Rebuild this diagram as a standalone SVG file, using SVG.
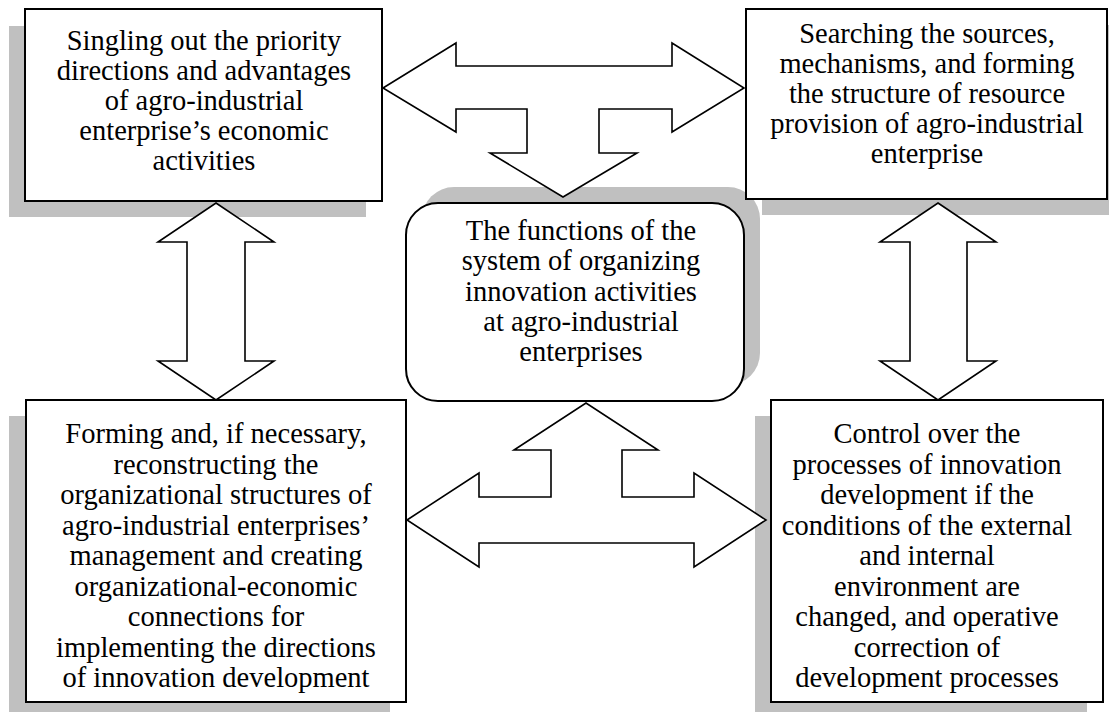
<svg xmlns="http://www.w3.org/2000/svg" width="1109" height="712" viewBox="0 0 1109 712">
<style>
.sh{fill:#c0c0c0;stroke:none}
.box{fill:#fff;stroke:#000;stroke-width:2}
.arr{fill:#fff;stroke:#000;stroke-width:1.6;stroke-linejoin:miter}
text{font-family:"Liberation Serif","Times New Roman",serif;font-size:28.5px;fill:#000;text-anchor:middle}
</style>
<rect width="1109" height="712" fill="#fff"/>
<g id="shadows">
<rect class="sh" x="9" y="26" width="357" height="191"/>
<rect class="sh" x="762" y="25" width="361" height="190"/>
<rect class="sh" x="422" y="187" width="338" height="198" rx="32" ry="32"/>
<rect class="sh" x="9" y="416" width="381" height="296"/>
<rect class="sh" x="755" y="416" width="332" height="296"/>
</g>
<g id="node-priority">
<rect class="box" x="25" y="9" width="357" height="192"/>
<text x="204" y="50">Singling out the priority</text>
<text x="204" y="80">directions and advantages</text>
<text x="204" y="110">of agro-industrial</text>
<text x="204" y="140">enterprise’s economic</text>
<text x="204" y="170">activities</text>
</g>
<g id="node-resources">
<rect class="box" x="746" y="9" width="361" height="190"/>
<text x="927" y="43">Searching the sources,</text>
<text x="927" y="73">mechanisms, and forming</text>
<text x="927" y="103">the structure of resource</text>
<text x="927" y="133">provision of agro-industrial</text>
<text x="927" y="163">enterprise</text>
</g>
<g id="node-center">
<rect class="box" x="406" y="203" width="338" height="198" rx="32" ry="32"/>
<text x="581" y="240">The functions of the</text>
<text x="581" y="270">system of organizing</text>
<text x="581" y="301">innovation activities</text>
<text x="581" y="331">at agro-industrial</text>
<text x="581" y="361">enterprises</text>
</g>
<g id="node-structures">
<rect class="box" x="26" y="400" width="380" height="302"/>
<text x="216" y="443">Forming and, if necessary,</text>
<text x="216" y="473.5">reconstructing the</text>
<text x="216" y="504">organizational structures of</text>
<text x="216" y="534.5">agro-industrial enterprises’</text>
<text x="216" y="565">management and creating</text>
<text x="216" y="595.5">organizational-economic</text>
<text x="216" y="626">connections for</text>
<text x="216" y="656.5">implementing the directions</text>
<text x="216" y="687">of innovation development</text>
</g>
<g id="node-control">
<rect class="box" x="771" y="400" width="332" height="302"/>
<text x="927" y="443">Control over the</text>
<text x="927" y="473.5">processes of innovation</text>
<text x="927" y="504">development if the</text>
<text x="927" y="534.5">conditions of the external</text>
<text x="927" y="565">and internal</text>
<text x="927" y="595.5">environment are</text>
<text x="927" y="626">changed, and operative</text>
<text x="927" y="656.5">correction of</text>
<text x="927" y="687">development processes</text>
</g>
<g id="connectors">
<polygon class="arr" points="383,88 456,43 456,66 672,66 672,43 744,88 672,132 672,109 599,109 599,153 637,153 563,197 490,153 527,153 527,109 456,109 456,132"/>
<polygon class="arr" points="407,520 479,473 479,497 551,497 551,450 514,450 586,403 658,450 622,450 622,497 694,497 694,473 766,520 694,567 694,543 479,543 479,567"/>
<polygon class="arr" points="216,203 274,242 245,242 245,361 274,361 216,400 158,361 187,361 187,242 158,242"/>
<polygon class="arr" points="938,203 996,242 967,242 967,361 996,361 938,400 880,361 910,361 910,242 880,242"/>
</g>
</svg>
